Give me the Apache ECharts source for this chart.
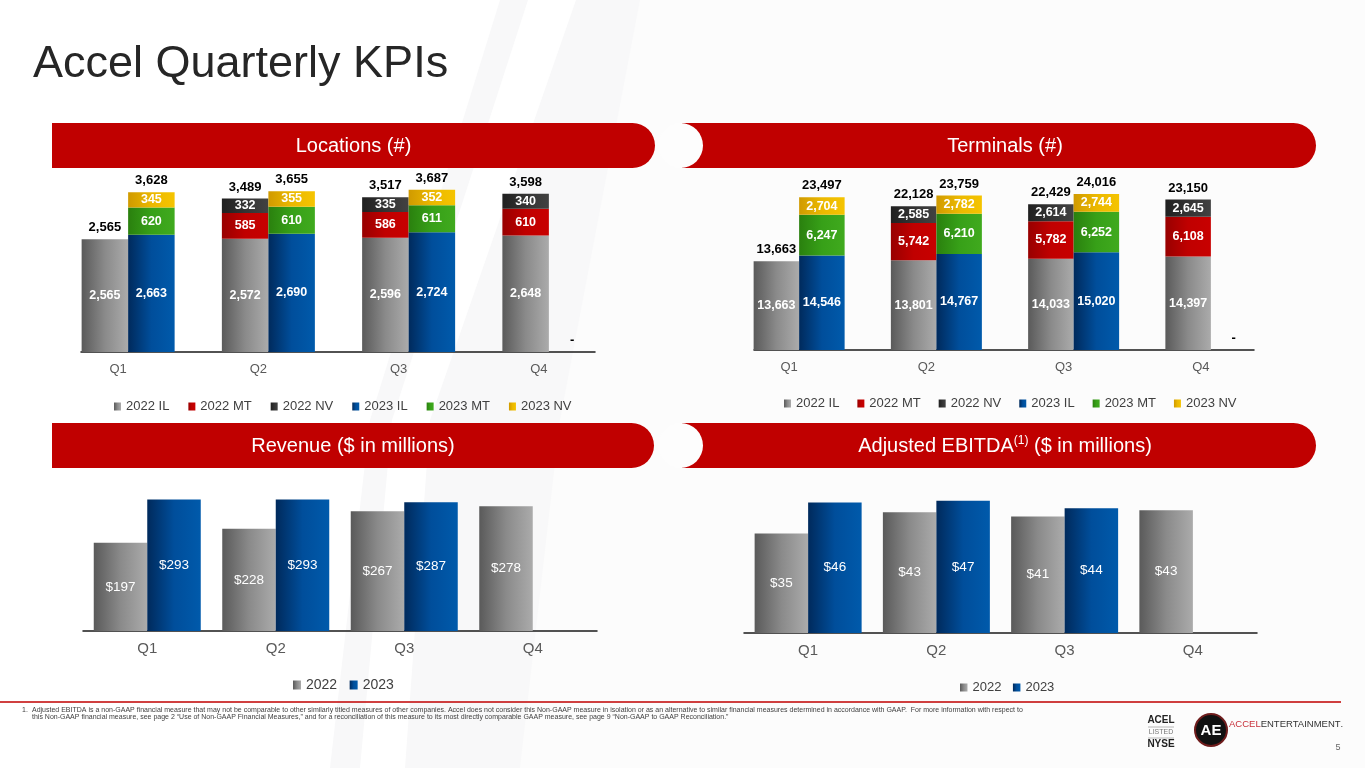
<!DOCTYPE html>
<html>
<head>
<meta charset="utf-8">
<title>Accel Quarterly KPIs</title>
<script src="https://cdn.jsdelivr.net/npm/echarts@6/dist/echarts.min.js"></script>
<style>
html, body { margin: 0; padding: 0; background: #ffffff; }
#main { width: 1365px; height: 768px; }
</style>
</head>
<body>
<div id="main"></div>
<script>
// categories
var quarters = ['Q1', 'Q2', 'Q3', 'Q4'];

// Locations (#)
var loc2022IL = [2565, 2572, 2596, 2648];
var loc2022MT = [0, 585, 586, 610];
var loc2022NV = [0, 332, 335, 340];
var loc2023IL = [2663, 2690, 2724, 0];
var loc2023MT = [620, 610, 611, 0];
var loc2023NV = [345, 355, 352, 0];

// Terminals (#)
var term2022IL = [13663, 13801, 14033, 14397];
var term2022MT = [0, 5742, 5782, 6108];
var term2022NV = [0, 2585, 2614, 2645];
var term2023IL = [14546, 14767, 15020, 0];
var term2023MT = [6247, 6210, 6252, 0];
var term2023NV = [2704, 2782, 2744, 0];

// Revenue ($ in millions)
var rev2022 = [197, 228, 267, 278];
var rev2023 = [293, 293, 287, null];

// Adjusted EBITDA ($ in millions)
var ebitda2022 = [35.1, 42.6, 41.1, 43.3];
var ebitda2023 = [46.0, 46.6, 44.0, null];

var stateNames = ['2022 IL', '2022 MT', '2022 NV', '2023 IL', '2023 MT', '2023 NV'];
var yearNames = ['2022', '2023'];

var FONT = '"Liberation Sans", Arial, sans-serif';

function sum3(a, b, c) {
	return a.map(function (v, i) { return v + b[i] + c[i]; });
}
function fmt(v) {
	return Math.round(v).toLocaleString('en-US');
}
function grad(stops) {
	return new echarts.graphic.LinearGradient(0, 0, 1, 0, stops.map(function (c, i) {
		return { offset: i / (stops.length - 1), color: c };
	}));
}

var colIL22 = grad(['#5a5a5a', '#8a8a8a', '#ababab']);
var colMT22 = grad(['#980000', '#c00000', '#c80000']);
var colNV22 = grad(['#202020', '#333333', '#424242']);
var colIL23 = grad(['#002a5c', '#004e9b', '#005aab']);
var colMT23 = grad(['#2a800e', '#37a018', '#40aa1e']);
var colNV23 = grad(['#d09a00', '#ebb800', '#f5c400']);

// one segment of a stacked column
function segment(name, data, stack, color, axis, width) {
	return {
		name: name, type: 'bar', stack: stack, data: data,
		xAxisIndex: axis, yAxisIndex: axis,
		barWidth: width, barGap: '0%',
		itemStyle: { color: color },
		label: {
			show: true, position: 'inside', color: '#ffffff',
			fontFamily: FONT, fontWeight: 'bold', fontSize: 12.5,
			formatter: function (p) { return p.value ? fmt(p.value) : ''; }
		}
	};
}
// invisible zero bar on top of a stack that carries the total label
function totalLabel(totals, stack, axis, width) {
	return {
		name: 'total', type: 'bar', stack: stack, data: totals.map(function () { return 0; }),
		xAxisIndex: axis, yAxisIndex: axis,
		barWidth: width, barGap: '0%', silent: true,
		itemStyle: { color: 'rgba(0,0,0,0)' },
		label: {
			show: true, position: 'top', distance: 5, color: '#000000',
			fontFamily: FONT, fontWeight: 'bold', fontSize: 13,
			formatter: function (p) { return totals[p.dataIndex] ? fmt(totals[p.dataIndex]) : '-'; }
		}
	};
}
function plainBar(name, data, color, axis, width) {
	return {
		name: name, type: 'bar', data: data,
		xAxisIndex: axis, yAxisIndex: axis,
		barWidth: width, barGap: '0%',
		itemStyle: { color: color },
		label: {
			show: true, position: 'inside', color: '#ffffff',
			fontFamily: FONT, fontSize: 13.5,
			formatter: function (p) { return '$' + Math.round(p.value); }
		}
	};
}

function catAxis(grid, opts) {
	var ax = {
		type: 'category', gridIndex: grid, data: quarters,
		axisTick: { show: false },
		axisLine: { show: false },
		axisLabel: { show: false }
	};
	return Object.assign(ax, opts || {});
}
function valAxis(grid, max) {
	return { type: 'value', gridIndex: grid, min: 0, max: max, show: false };
}

var topLabel = { show: true, color: '#595959', fontFamily: FONT, fontSize: 13, margin: 11, padding: [0, 20, 0, 0] };
var baseLine = { show: true, lineStyle: { color: '#1a1a1a', width: 1.5 } };

function banner(x, y, w, text, concaveLeft) {
	var items = [{
		type: 'rect', z: 1, silent: true,
		shape: { x: x, y: y, width: w, height: 45, r: [0, 22.5, 22.5, 0] },
		style: { fill: '#c00000' }
	}];
	if (concaveLeft) {
		items.push({
			type: 'circle', z: 1, silent: true,
			shape: { cx: x - 1.5, cy: y + 22.5, r: 22.5 },
			style: { fill: '#fdfdfd' }
		});
	}
	items.push({
		type: 'text', z: 2, silent: true, x: x + (concaveLeft ? 12 : 0) + (w - (concaveLeft ? 12 : 0)) / 2, y: y + 23,
		style: {
			text: text.text || text, rich: text.rich,
			fill: '#ffffff', font: '20px ' + FONT,
			align: 'center', verticalAlign: 'middle'
		}
	});
	return items;
}

var ebitdaTitle = {
	text: '{a|Adjusted EBITDA}{s|(1)}{a| ($ in millions)}',
	rich: {
		a: { fontSize: 20, fontFamily: FONT, fill: '#ffffff', color: '#ffffff' },
		s: { fontSize: 12, fontFamily: FONT, fill: '#ffffff', color: '#ffffff', verticalAlign: 'top', padding: [0, 0, 10, 0] }
	}
};

var footLine1 = 'Adjusted EBITDA is a non-GAAP financial measure that may not be comparable to other similarly titled measures of other companies. Accel does not consider this Non-GAAP measure in isolation or as an alternative to similar financial measures determined in accordance with GAAP.  For more information with respect to';
var footLine2 = 'this Non-GAAP financial measure, see page 2 \u201cUse of Non-GAAP Financial Measures,\u201d and for a reconciliation of this measure to its most directly comparable GAAP measure, see page 9 \u201cNon-GAAP to GAAP Reconciliation.\u201d';

var graphics = [
	// faint swoosh in the slide background
	{ type: 'polygon', z: -1, silent: true, shape: { points: [[500, 0], [1365, 0], [1365, 768], [330, 768], [370, 420]] }, style: { fill: '#f8f8f9' } },
	{ type: 'polygon', z: -1, silent: true, shape: { points: [[528, 0], [576, 0], [430, 420], [405, 768], [360, 768], [392, 420]] }, style: { fill: '#ffffff' } },
	{ type: 'polygon', z: -1, silent: true, shape: { points: [[640, 0], [1365, 0], [1365, 768], [520, 768], [560, 420]] }, style: { fill: '#fcfcfc' } },
	{
		type: 'text', x: 33, y: 65, silent: true,
		style: { text: 'Accel Quarterly KPIs', font: '45px ' + FONT, fill: '#262626', verticalAlign: 'middle' }
	},
	{ type: 'line', silent: true, shape: { x1: 0, y1: 702, x2: 1341, y2: 702 }, style: { stroke: '#c00000', lineWidth: 1.5 } },
	{ type: 'text', x: 22, y: 710.5, silent: true, style: { text: '1.', font: '7px ' + FONT, fill: '#404040', verticalAlign: 'middle' } },
	{ type: 'text', x: 32, y: 710.5, silent: true, style: { text: footLine1, font: '7px ' + FONT, fill: '#404040', verticalAlign: 'middle' } },
	{ type: 'text', x: 32, y: 717, silent: true, style: { text: footLine2, font: '7px ' + FONT, fill: '#404040', verticalAlign: 'middle' } },
	// NYSE listing mark
	{ type: 'text', x: 1161, y: 720, silent: true, style: { text: 'ACEL', font: 'bold 10px ' + FONT, fill: '#222222', align: 'center', verticalAlign: 'middle' } },
	{ type: 'line', silent: true, shape: { x1: 1148, y1: 727, x2: 1174, y2: 727 }, style: { stroke: '#9a9a9a', lineWidth: 0.7 } },
	{ type: 'text', x: 1161, y: 732.5, silent: true, style: { text: 'LISTED', font: '7px ' + FONT, fill: '#777777', align: 'center', verticalAlign: 'middle' } },
	{ type: 'line', silent: true, shape: { x1: 1148, y1: 738, x2: 1174, y2: 738 }, style: { stroke: '#9a9a9a', lineWidth: 0.7 } },
	{ type: 'text', x: 1161, y: 744.5, silent: true, style: { text: 'NYSE', font: 'bold 10px ' + FONT, fill: '#222222', align: 'center', verticalAlign: 'middle' } },
	// company logo
	{ type: 'circle', silent: true, shape: { cx: 1211, cy: 730, r: 16 }, style: { fill: '#111111', stroke: '#6e1c1c', lineWidth: 2 } },
	{ type: 'text', x: 1211, y: 731, silent: true, style: { text: 'AE', font: 'bold 15px "Liberation Sans Narrow", ' + FONT, fill: '#ffffff', align: 'center', verticalAlign: 'middle' } },
	{
		type: 'text', x: 1229, y: 724, silent: true,
		style: {
			text: '{r|ACCEL}{d|ENTERTAINMENT}{d|.}', verticalAlign: 'middle',
			rich: {
				r: { fontSize: 9.5, fontFamily: FONT, fill: '#c8303a', color: '#c8303a' },
				d: { fontSize: 9.5, fontFamily: FONT, fill: '#333333', color: '#333333' }
			}
		}
	},
	{ type: 'text', x: 1338, y: 748, silent: true, style: { text: '5', font: '9px ' + FONT, fill: '#666666', align: 'center', verticalAlign: 'middle' } }
];
graphics = graphics
	.concat(banner(52, 123, 603, 'Locations (#)', false))
	.concat(banner(682, 123, 634, 'Terminals (#)', true))
	.concat(banner(52, 423, 602, 'Revenue ($ in millions)', false))
	.concat(banner(682, 423, 634, ebitdaTitle, true));

var locTot22 = sum3(loc2022IL, loc2022MT, loc2022NV);
var locTot23 = sum3(loc2023IL, loc2023MT, loc2023NV);
var termTot22 = sum3(term2022IL, term2022MT, term2022NV);
var termTot23 = sum3(term2023IL, term2023MT, term2023NV);

var legendText = { fontFamily: FONT, fontSize: 13, color: '#404040' };

var option = {
	backgroundColor: '#ffffff',
	animation: false,
	textStyle: { fontFamily: FONT },
	graphic: graphics,
	grid: [
		{ left: 58, top: 176, width: 561, height: 176 },
		{ left: 81, top: 176, width: 514, height: 176 },
		{ left: 730.5, top: 174.5, width: 549, height: 175.5 },
		{ left: 754, top: 174.5, width: 500, height: 175.5 },
		{ left: 83, top: 474, width: 514, height: 157 },
		{ left: 744, top: 477, width: 513, height: 156 }
	],
	xAxis: [
		catAxis(0, { axisLabel: topLabel }),
		catAxis(1, { axisLine: baseLine }),
		catAxis(2, { axisLabel: topLabel }),
		catAxis(3, { axisLine: baseLine }),
		catAxis(4, { axisLine: baseLine, axisLabel: { show: true, color: '#595959', fontFamily: FONT, fontSize: 15, margin: 10 } }),
		catAxis(5, { axisLine: baseLine, axisLabel: { show: true, color: '#595959', fontFamily: FONT, fontSize: 15, margin: 10 } })
	],
	yAxis: [
		valAxis(0, 4000), valAxis(1, 4000),
		valAxis(2, 27000), valAxis(3, 27000),
		valAxis(4, 350), valAxis(5, 55)
	],
	legend: [
		{ data: stateNames, left: 109, top: 395, icon: 'rect', itemWidth: 7, itemHeight: 8, itemGap: 19, selectedMode: false, textStyle: legendText },
		{ data: stateNames, left: 779, top: 392, icon: 'rect', itemWidth: 7, itemHeight: 8, itemGap: 18, selectedMode: false, textStyle: legendText },
		{ data: yearNames, left: 288, top: 673, icon: 'rect', itemWidth: 8, itemHeight: 9, itemGap: 12.5, selectedMode: false, textStyle: { fontFamily: FONT, fontSize: 14, color: '#404040' } },
		{ data: yearNames, left: 955, top: 676, icon: 'rect', itemWidth: 7.5, itemHeight: 8, itemGap: 11.5, selectedMode: false, textStyle: legendText }
	],
	series: [
		segment('2022 IL', loc2022IL, 'l22', colIL22, 0, 46.5),
		segment('2022 MT', loc2022MT, 'l22', colMT22, 0, 46.5),
		segment('2022 NV', loc2022NV, 'l22', colNV22, 0, 46.5),
		totalLabel(locTot22, 'l22', 0, 46.5),
		segment('2023 IL', loc2023IL, 'l23', colIL23, 0, 46.5),
		segment('2023 MT', loc2023MT, 'l23', colMT23, 0, 46.5),
		segment('2023 NV', loc2023NV, 'l23', colNV23, 0, 46.5),
		totalLabel(locTot23, 'l23', 0, 46.5),

		segment('2022 IL', term2022IL, 't22', colIL22, 2, 45.5),
		segment('2022 MT', term2022MT, 't22', colMT22, 2, 45.5),
		segment('2022 NV', term2022NV, 't22', colNV22, 2, 45.5),
		totalLabel(termTot22, 't22', 2, 45.5),
		segment('2023 IL', term2023IL, 't23', colIL23, 2, 45.5),
		segment('2023 MT', term2023MT, 't23', colMT23, 2, 45.5),
		segment('2023 NV', term2023NV, 't23', colNV23, 2, 45.5),
		totalLabel(termTot23, 't23', 2, 45.5),

		plainBar('2022', rev2022, colIL22, 4, 53.5),
		plainBar('2023', rev2023, colIL23, 4, 53.5),
		plainBar('2022', ebitda2022, colIL22, 5, 53.5),
		plainBar('2023', ebitda2023, colIL23, 5, 53.5)
	]
};

var chart = echarts.init(document.getElementById('main'));
chart.setOption(option);
</script>
</body>
</html>
